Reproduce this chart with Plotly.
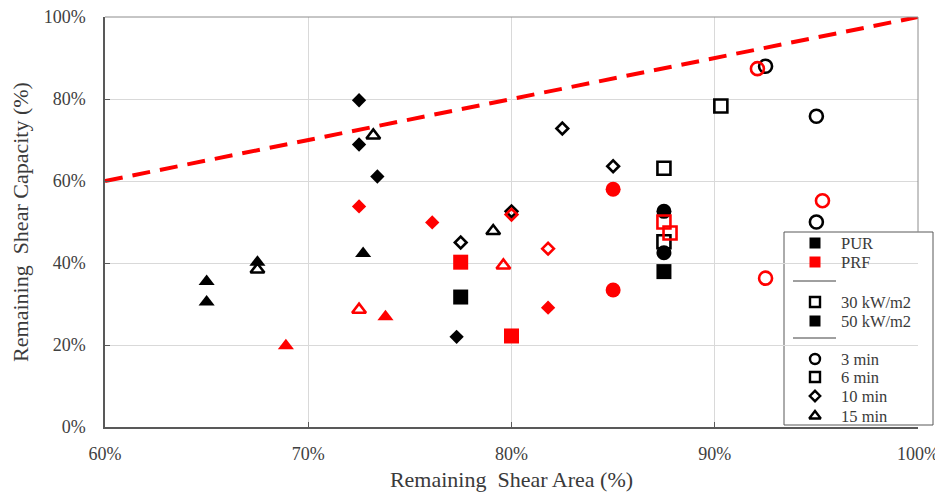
import plotly.graph_objects as go

# ---------------- data (values in %) ----------------
# PUR = black, PRF = red ; 30 kW/m2 = open, 50 kW/m2 = filled
pur30_3min_x = [92.5, 95.0, 95.0]
pur30_3min_y = [88.0, 75.8, 50.0]
pur50_3min_x = [87.5, 87.5]
pur50_3min_y = [52.6, 42.5]
prf30_3min_x = [92.1, 95.3, 92.5]
prf30_3min_y = [87.4, 55.2, 36.3]
prf50_3min_x = [85.0, 85.0]
prf50_3min_y = [58.0, 33.4]

pur30_6min_x = [87.5, 87.5, 90.3]
pur30_6min_y = [63.1, 45.2, 78.3]
pur50_6min_x = [77.5, 87.5]
pur50_6min_y = [31.7, 37.9]
prf30_6min_x = [87.5, 87.8]
prf30_6min_y = [50.0, 47.3]
prf50_6min_x = [77.5, 80.0]
prf50_6min_y = [40.2, 22.2]

pur30_10min_x = [77.5, 80.0, 82.5, 85.0]
pur30_10min_y = [45.0, 52.6, 72.8, 63.6]
pur50_10min_x = [72.5, 72.5, 73.4, 77.3]
pur50_10min_y = [79.7, 68.9, 61.1, 22.0]
prf30_10min_x = [81.8, 80.0]
prf30_10min_y = [43.5, 51.8]
prf50_10min_x = [72.5, 76.1, 81.8]
prf50_10min_y = [53.8, 49.9, 29.1]

pur30_15min_x = [67.5, 73.2, 79.1]
pur30_15min_y = [38.4, 71.1, 47.8]
pur50_15min_x = [65.0, 65.0, 67.5, 72.7]
pur50_15min_y = [35.5, 30.5, 40.2, 42.3]
prf30_15min_x = [72.5, 79.6]
prf30_15min_y = [28.6, 39.4]
prf50_15min_x = [68.9, 73.8]
prf50_15min_y = [19.8, 26.9]

ref_line_x = [60, 100]
ref_line_y = [60, 100]

x_ticks = [60, 70, 80, 90, 100]
x_tick_labels = ["60%", "70%", "80%", "90%", "100%"]
y_ticks = [0, 20, 40, 60, 80, 100]
y_tick_labels = ["0%", "20%", "40%", "60%", "80%", "100%"]

legend_labels = ["PUR", "PRF", "30 kW/m2", "50 kW/m2", "3 min", "6 min", "10 min", "15 min"]

# ---------------- styles ----------------
BLACK = "#000000"
RED = "#ff0000"
FONT = "Liberation Serif, Times New Roman, serif"
TXT = "#3a3a3a"

sym_size = {"circle": 14, "square": 14, "diamond": 10, "triangle-up": 13}

fig = go.Figure()

fig.add_trace(go.Scatter(x=ref_line_x, y=ref_line_y, mode="lines",
                         line=dict(color=RED, width=4, dash="18px,10px"),
                         showlegend=False, hoverinfo="skip"))

def add(x, y, color, sym, filled):
    s = sym_size[sym]
    if filled:
        marker = dict(symbol=sym, size=s + 1, color=color, line=dict(width=0))
    else:
        marker = dict(symbol=sym + "-open", size=s - 1, color=color,
                      line=dict(width=2.6, color=color))
    fig.add_trace(go.Scatter(x=x, y=y, mode="markers", marker=marker, showlegend=False))

groups = [
    (pur30_15min_x, pur30_15min_y, BLACK, "triangle-up", False),
    (pur50_15min_x, pur50_15min_y, BLACK, "triangle-up", True),
    (pur30_10min_x, pur30_10min_y, BLACK, "diamond", False),
    (pur50_10min_x, pur50_10min_y, BLACK, "diamond", True),
    (pur30_6min_x, pur30_6min_y, BLACK, "square", False),
    (pur50_6min_x, pur50_6min_y, BLACK, "square", True),
    (pur30_3min_x, pur30_3min_y, BLACK, "circle", False),
    (pur50_3min_x, pur50_3min_y, BLACK, "circle", True),
    (prf30_15min_x, prf30_15min_y, RED, "triangle-up", False),
    (prf50_15min_x, prf50_15min_y, RED, "triangle-up", True),
    (prf30_10min_x, prf30_10min_y, RED, "diamond", False),
    (prf50_10min_x, prf50_10min_y, RED, "diamond", True),
    (prf30_6min_x, prf30_6min_y, RED, "square", False),
    (prf50_6min_x, prf50_6min_y, RED, "square", True),
    (prf30_3min_x, prf30_3min_y, RED, "circle", False),
    (prf50_3min_x, prf50_3min_y, RED, "circle", True),
]
for g in groups:
    add(*g)

# ---------------- custom legend (overlay axis in plot-area fractions) ----------------
# target pixel positions in the 943x498 screenshot (page has an 8px body margin)
W_L, W_R, H_T, H_B = 105, 918, 17, 427
OFF = 8
def fx(px):
    return (px - W_L) / (W_R - W_L)
def fy(py):
    return (H_B - py) / (H_B - H_T)

leg_y_px = [243, 262, 302, 321, 359, 377, 396, 416]
leg_marks = [
    dict(symbol="square", size=11, color=BLACK),
    dict(symbol="square", size=11, color=RED),
    dict(symbol="square-open", size=10, color=BLACK, line=dict(width=2.4, color=BLACK)),
    dict(symbol="square", size=11, color=BLACK),
    dict(symbol="circle-open", size=10, color=BLACK, line=dict(width=2.4, color=BLACK)),
    dict(symbol="square-open", size=10, color=BLACK, line=dict(width=2.4, color=BLACK)),
    dict(symbol="diamond-open", size=8, color=BLACK, line=dict(width=2.4, color=BLACK)),
    dict(symbol="triangle-up-open", size=10, color=BLACK, line=dict(width=2.4, color=BLACK)),
]

shapes = [
    # legend box
    dict(type="rect", xref="paper", yref="paper", x0=fx(784), x1=fx(933), y0=fy(425), y1=fy(232),
         line=dict(color="#595959", width=1), fillcolor="white", layer="between"),
    # top and right plot borders
    dict(type="line", xref="paper", yref="paper", x0=0, x1=1, y0=1, y1=1,
         line=dict(color="#8c8c8c", width=1)),
    dict(type="line", xref="paper", yref="paper", x0=1, x1=1, y0=fy(232), y1=1,
         line=dict(color="#8c8c8c", width=1)),
    # legend separators
    dict(type="line", xref="paper", yref="paper", x0=fx(793), x1=fx(836), y0=fy(281), y1=fy(281),
         line=dict(color="#404040", width=1)),
    dict(type="line", xref="paper", yref="paper", x0=fx(793), x1=fx(836), y0=fy(338), y1=fy(338),
         line=dict(color="#404040", width=1)),
]

annotations = []
for lab, py, mk in zip(legend_labels, leg_y_px, leg_marks):
    fig.add_trace(go.Scatter(x=[fx(815)], y=[fy(py)], mode="markers", marker=mk,
                             xaxis="x2", yaxis="y2", showlegend=False, hoverinfo="skip",
                             cliponaxis=False))
    annotations.append(dict(x=fx(839), y=fy(py), xref="paper", yref="paper", text=lab,
                            showarrow=False, xanchor="left", yanchor="middle",
                            font=dict(family=FONT, size=16.5, color=TXT)))

FIG_W, FIG_H = 943 - OFF, 498 - OFF
fig.update_layout(
    width=FIG_W, height=FIG_H,
    margin=dict(l=W_L - OFF, r=943 - W_R, t=H_T - OFF, b=498 - H_B),
    paper_bgcolor="white", plot_bgcolor="white",
    showlegend=False,
    shapes=shapes, annotations=annotations,
    xaxis=dict(range=[60, 100], tickvals=x_ticks, ticktext=x_tick_labels,
               automargin=False, ticklabeloverflow="allow",
               showgrid=True, gridcolor="#d9d9d9", gridwidth=1, zeroline=False,
               showline=True, linecolor="#595959", linewidth=1.5,
               ticks="inside", ticklen=5, tickcolor="#595959",
               ticklabelstandoff=10,
               tickfont=dict(family=FONT, size=18, color="#404040"),
               title=dict(text="Remaining  Shear Area (%)", standoff=8,
                          font=dict(family=FONT, size=22, color=TXT))),
    yaxis=dict(range=[0, 100], tickvals=y_ticks, ticktext=y_tick_labels,
               automargin=False, ticklabeloverflow="allow",
               showgrid=True, gridcolor="#d9d9d9", gridwidth=1, zeroline=False,
               showline=True, linecolor="#595959", linewidth=1.5,
               ticks="inside", ticklen=5, tickcolor="#595959",
               ticklabelstandoff=14,
               tickfont=dict(family=FONT, size=18, color="#404040"),
               title=dict(text="Remaining  Shear Capacity (%)", standoff=14,
                          font=dict(family=FONT, size=22, color=TXT))),
    xaxis2=dict(range=[0, 1], overlaying="x", visible=False, fixedrange=True),
    yaxis2=dict(range=[0, 1], overlaying="y", visible=False, fixedrange=True),
)

fig.write_html("out.html")
